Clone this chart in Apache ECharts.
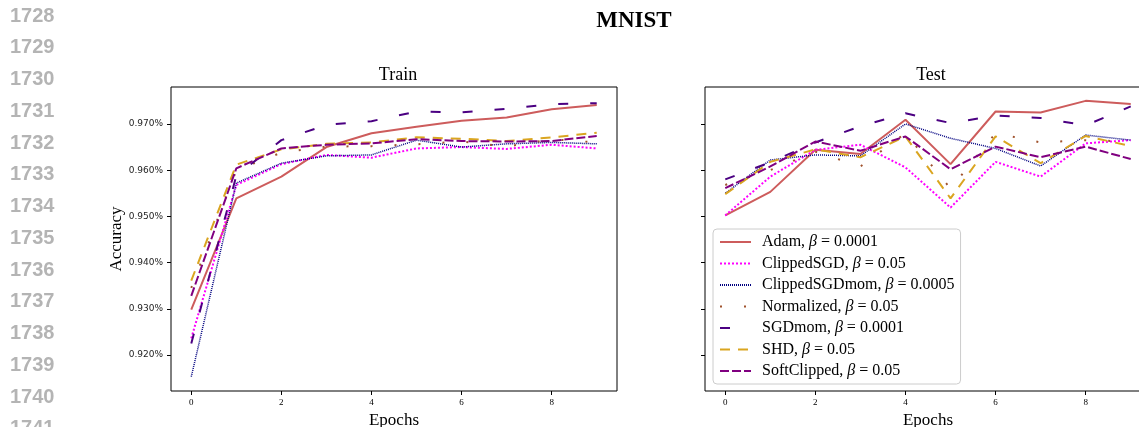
<!DOCTYPE html>
<html>
<head>
<meta charset="utf-8">
<title>MNIST</title>
<script src="https://cdn.jsdelivr.net/npm/echarts@6/dist/echarts.min.js"></script>
<style>
  html, body { margin: 0; padding: 0; background: #fff; }
  #chart { width: 1139px; height: 427px; }
</style>
</head>
<body>
<div id="chart"></div>
<script>
// data
const epochs = [0, 1, 2, 3, 4, 5, 6, 7, 8, 9];
const methods = ['Adam', 'ClippedSGD', 'ClippedSGDmom', 'Normalized', 'SGDmom', 'SHD', 'SoftClipped'];
const betas = ['0.0001', '0.05', '0.0005', '0.05', '0.0001', '0.05', '0.05'];

const trainAdam = [0.9298, 0.9539, 0.9586, 0.9650, 0.9680, 0.9694, 0.9707, 0.9714, 0.9732, 0.9741];
const trainClippedSGD = [0.9236, 0.9568, 0.9613, 0.9633, 0.9627, 0.9647, 0.9650, 0.9646, 0.9655, 0.9647];
const trainClippedSGDmom = [0.9153, 0.9572, 0.9615, 0.9631, 0.9633, 0.9665, 0.9650, 0.9657, 0.9660, 0.9657];
const trainNormalized = [0.9345, 0.9600, 0.9638, 0.9651, 0.9652, 0.9656, 0.9662, 0.9651, 0.9667, 0.9660];
const trainSGDmom = [0.9225, 0.9588, 0.9665, 0.9698, 0.9706, 0.9727, 0.9725, 0.9733, 0.9743, 0.9745];
const trainSHD = [0.9361, 0.9612, 0.9645, 0.9657, 0.9660, 0.9671, 0.9668, 0.9663, 0.9671, 0.9681];
const trainSoftClipped = [0.9328, 0.9604, 0.9647, 0.9655, 0.9658, 0.9667, 0.9663, 0.9662, 0.9663, 0.9674];

const testAdam = [0.9502, 0.9553, 0.9644, 0.9635, 0.9709, 0.9613, 0.9727, 0.9725, 0.9750, 0.9743];
const testClippedSGD = [0.9502, 0.9586, 0.9644, 0.9655, 0.9606, 0.9519, 0.9618, 0.9586, 0.9658, 0.9665];
const testClippedSGDmom = [0.9550, 0.9622, 0.9633, 0.9631, 0.9700, 0.9669, 0.9647, 0.9609, 0.9676, 0.9665];
const testNormalized = [0.9568, 0.9600, 0.9640, 0.9608, 0.9680, 0.9560, 0.9680, 0.9660, 0.9665, 0.9662];
const testSGDmom = [0.9580, 0.9617, 0.9660, 0.9695, 0.9723, 0.9702, 0.9718, 0.9713, 0.9697, 0.9738];
const testSHD = [0.9548, 0.9618, 0.9645, 0.9628, 0.9673, 0.9539, 0.9673, 0.9615, 0.9674, 0.9652];
const testSoftClipped = [0.9561, 0.9608, 0.9662, 0.9642, 0.9673, 0.9602, 0.9651, 0.9628, 0.9651, 0.9624];

const xTicks = [0, 2, 4, 6, 8];
const yTicks = [0.92, 0.93, 0.94, 0.95, 0.96, 0.97];
const lineNumbers = [1728, 1729, 1730, 1731, 1732, 1733, 1734, 1735, 1736, 1737, 1738, 1739, 1740, 1741];

const trainData = [trainAdam, trainClippedSGD, trainClippedSGDmom, trainNormalized, trainSGDmom, trainSHD, trainSoftClipped];
const testData = [testAdam, testClippedSGD, testClippedSGDmom, testNormalized, testSGDmom, testSHD, testSoftClipped];

// matplotlib-ish line styles per method
const styles = [
  { color: '#cd5c5c', width: 2, type: 'solid' },
  { color: '#ff00ff', width: 2, type: [2, 2] },
  { color: '#000080', width: 1.5, type: [1, 1] },
  { color: '#a0522d', width: 2, type: [2, 22] },
  { color: '#4b0082', width: 2, type: [10, 22] },
  { color: '#daa520', width: 2, type: [10, 8] },
  { color: '#800080', width: 2, type: [9, 3] }
];

const serif = '"Liberation Serif", "DejaVu Serif", serif';

const makeSeries = (data, idx) => data.map((vals, i) => ({
  name: methods[i],
  type: 'line',
  xAxisIndex: idx,
  yAxisIndex: idx,
  symbol: 'none',
  animation: false,
  lineStyle: styles[i],
  itemStyle: { color: styles[i].color },
  data: epochs.map((e, j) => [e, vals[j]])
}));

const xAxisBase = (gi) => ({
  type: 'value',
  gridIndex: gi,
  min: -0.45,
  max: 9.45,
  splitLine: { show: false },
  axisLine: { show: false, onZero: false },
  axisTick: { show: true, length: 4, customValues: xTicks, lineStyle: { color: '#000' } },
  axisLabel: { customValues: xTicks, fontFamily: serif, fontSize: 9, color: '#000', margin: 7 },
  name: 'Epochs',
  nameLocation: 'middle',
  nameGap: 19,
  nameTextStyle: { fontFamily: serif, fontSize: 17, color: '#000' }
});

const yAxisBase = (gi, labels) => ({
  type: 'value',
  gridIndex: gi,
  min: 0.9122,
  max: 0.9780,
  splitLine: { show: false },
  axisLine: { show: false, onZero: false },
  axisTick: { show: true, length: 4, customValues: yTicks, lineStyle: { color: '#000' } },
  axisLabel: {
    show: labels,
    customValues: yTicks,
    fontFamily: '"DejaVu Sans", sans-serif',
    fontSize: 9,
    color: '#222',
    formatter: (v) => v.toFixed(3) + '%'
  },
  name: labels ? 'Accuracy' : '',
  nameLocation: 'middle',
  nameGap: 46,
  nameTextStyle: { fontFamily: serif, fontSize: 17, color: '#000' }
});

const chart = echarts.init(document.getElementById('chart'));

chart.setOption({
  animation: false,
  title: [
    { text: 'MNIST', left: 629, top: 5, textAlign: 'center',
      textStyle: { fontFamily: serif, fontWeight: 'bold', fontSize: 23, color: '#000' } },
    { text: 'Train', left: 393, top: 61, textAlign: 'center',
      textStyle: { fontFamily: serif, fontWeight: 'normal', fontSize: 18, color: '#000' } },
    { text: 'Test', left: 926, top: 61, textAlign: 'center',
      textStyle: { fontFamily: serif, fontWeight: 'normal', fontSize: 18, color: '#000' } }
  ],
  grid: [
    { left: 171, top: 87, width: 446, height: 304, outerBoundsMode: 'none', show: true, borderColor: '#000', borderWidth: 1, backgroundColor: 'transparent' },
    { left: 705, top: 87, width: 446, height: 304, outerBoundsMode: 'none', show: true, borderColor: '#000', borderWidth: 1, backgroundColor: 'transparent' }
  ],
  xAxis: [xAxisBase(0), xAxisBase(1)],
  yAxis: [yAxisBase(0, true), yAxisBase(1, false)],
  legend: {
    orient: 'vertical',
    left: 713,
    top: 229,
    padding: [5, 6, 5, 6],
    itemWidth: 31,
    itemHeight: 14,
    itemGap: 5.5,
    backgroundColor: 'rgba(255,255,255,0.8)',
    borderColor: '#cccccc',
    borderWidth: 1,
    borderRadius: 4,
    itemStyle: { opacity: 0, borderWidth: 0 },
    data: methods,
    formatter: (name) => name + ', {i|β} = ' + betas[methods.indexOf(name)],
    textStyle: {
      fontFamily: serif,
      fontSize: 16,
      lineHeight: 15,
      color: '#000',
      padding: [0, 0, 0, 6],
      rich: { i: { fontFamily: serif, fontStyle: 'italic', fontSize: 16, lineHeight: 15, color: '#000' } }
    }
  },
  graphic: lineNumbers.map((n, i) => ({
    type: 'text',
    left: 10,
    top: 6 + i * 31.75,
    silent: true,
    style: { text: String(n), fill: '#b4b4b4', font: 'bold 20px "Liberation Sans", Arial, sans-serif' }
  })),
  series: makeSeries(trainData, 0).concat(makeSeries(testData, 1))
});
</script>
</body>
</html>
